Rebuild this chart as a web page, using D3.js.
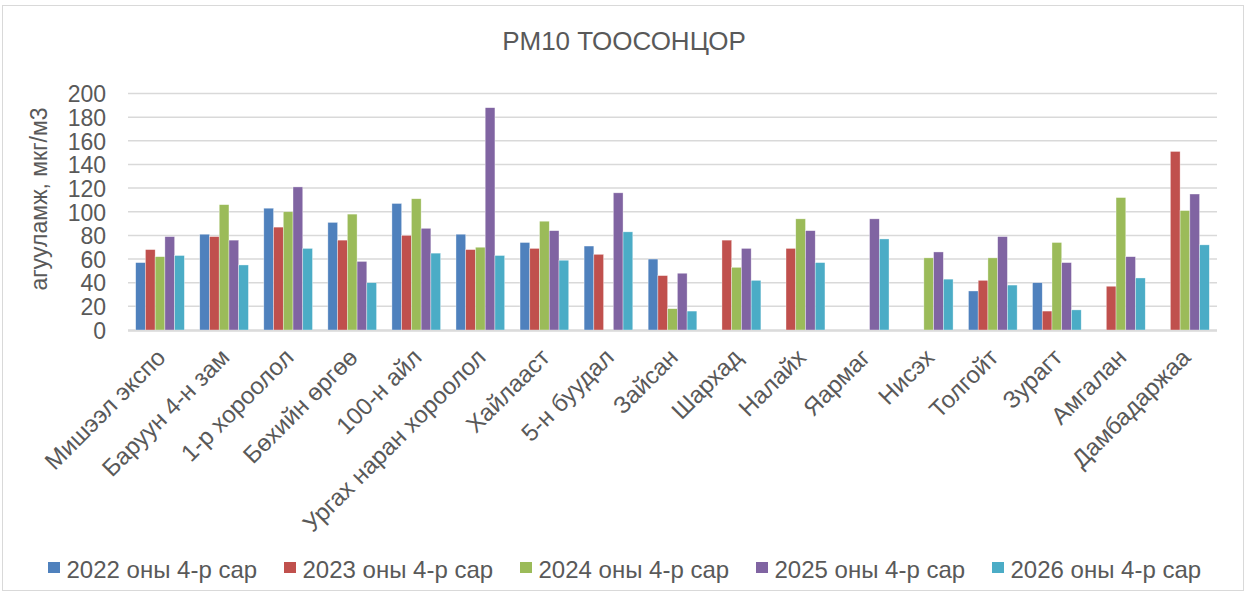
<html>
<head>
<meta charset="utf-8">
<title>PM10 ТООСОНЦОР</title>
<style>
  body { margin: 0; background: #fff; }
  text { font-family: "Liberation Sans", Arial, sans-serif; fill: #595959; }
</style>
</head>
<body>
<script src="https://cdn.jsdelivr.net/npm/d3@7/dist/d3.min.js"></script>
<script>

var width  = 1248;
var height = 595;

// station names
var categories = ["Мишээл экспо", "Баруун 4-н зам", "1-р хороолол", "Бөхийн өргөө", "100-н айл",
  "Ургах наран хороолол", "Хайлааст", "5-н буудал", "Зайсан", "Шархад", "Налайх", "Яармаг",
  "Нисэх", "Толгойт", "Зурагт", "Амгалан", "Дамбадаржаа"];

var seriesNames = ["2022 оны 4-р сар", "2023 оны 4-р сар", "2024 оны 4-р сар", "2025 оны 4-р сар", "2026 оны 4-р сар"];

// values per series (null = no measurement)
var y2022 = [57, 81, 103, 91, 107, 81, 74, 71, 60, null, null, null, null, 33, 40, null, null];
var y2023 = [68, 79, 87, 76, 80, 68, 69, 64, 46, 76, 69, null, null, 42, 16, 37, 151];
var y2024 = [62, 106, 100, 98, 111, 70, 92, null, 18, 53, 94, null, 61, 61, 74, 112, 101];
var y2025 = [79, 76, 121, 58, 86, 188, 84, 116, 48, 69, 84, 94, 66, 79, 57, 62, 115];
var y2026 = [63, 55, 69, 40, 65, 63, 59, 83, 16, 42, 57, 77, 43, 38, 17, 44, 72];

var yTicks = [0, 20, 40, 60, 80, 100, 120, 140, 160, 180, 200];
var colors = ["#4F81BD", "#C0504D", "#9BBB59", "#8064A2", "#4BACC6"];

var series = [y2022, y2023, y2024, y2025, y2026];

var svg = d3.select("body").append("svg")
  .attr("width", width)
  .attr("height", height);

// chart border
svg.append("rect")
  .attr("x", 2.5).attr("y", 5.5)
  .attr("width", 1241).attr("height", 585)
  .attr("fill", "#fff")
  .attr("stroke", "#d9d9d9");

var plotL = 128, plotR = 1217, plotT = 93.5, plotB = 330;

var x = d3.scaleBand()
  .domain(categories)
  .range([plotL, plotR])
  .paddingInner(0.24)
  .paddingOuter(0.12);

var xs = d3.scaleBand()
  .domain(d3.range(series.length))
  .range([0, x.bandwidth()]);

var y = d3.scaleLinear()
  .domain([0, 200])
  .range([plotB, plotT]);

// gridlines
svg.append("g").selectAll("line")
  .data(yTicks)
  .enter().append("line")
  .attr("x1", plotL).attr("x2", plotR)
  .attr("y1", function(d){ return y(d); })
  .attr("y2", function(d){ return y(d); })
  .attr("stroke", "#d9d9d9")
  .attr("stroke-width", 1.5);

// y axis labels
var yAxis = svg.append("g")
  .attr("transform", "translate(106,0)")
  .call(d3.axisLeft(y).tickValues(yTicks).tickSize(0).tickPadding(0));
yAxis.select(".domain").remove();
yAxis.selectAll("text")
  .style("font-size", "23px")
  .style("font-family", "'Liberation Sans', Arial, sans-serif")
  .attr("fill", "#595959")
  .attr("dy", "0.36em");

// bars
var groups = svg.append("g").selectAll("g")
  .data(series)
  .enter().append("g")
  .attr("fill", function(d,i){ return colors[i]; });

groups.each(function(vals, si){
  d3.select(this).selectAll("rect")
    .data(vals.map(function(v, ci){ return {v: v, c: categories[ci]}; })
               .filter(function(d){ return d.v !== null; }))
    .enter().append("rect")
    .attr("x", function(d){ return x(d.c) + xs(si); })
    .attr("width", xs.bandwidth())
    .attr("y", function(d){ return y(d.v); })
    .attr("height", function(d){ return y(0) - y(d.v); })
    .attr("stroke", "#fff")
    .attr("stroke-opacity", 0.6)
    .attr("stroke-width", 0.6);
});

// x axis line
svg.append("line")
  .attr("x1", plotL).attr("x2", plotR)
  .attr("y1", plotB + 1).attr("y2", plotB + 1)
  .attr("stroke", "#d9d9d9")
  .attr("stroke-width", 1.5);

// x labels, rotated
svg.append("g").selectAll("text")
  .data(categories)
  .enter().append("text")
  .attr("transform", function(d){
    return "translate(" + (x(d) + x.bandwidth() / 2 + 1) + "," + (plotB + 23) + ") rotate(-45)";
  })
  .attr("text-anchor", "end")
  .attr("dy", "0.35em")
  .style("font-size", "24px")
  .text(function(d){ return d; });

// y axis title
svg.append("text")
  .attr("transform", "translate(47,199) rotate(-90)")
  .attr("text-anchor", "middle")
  .style("font-size", "23px")
  .text("агууламж, мкг/м3");

// title
svg.append("text")
  .attr("x", 624).attr("y", 50)
  .attr("text-anchor", "middle")
  .style("font-size", "26px")
  .text("PM10 ТООСОНЦОР");

// legend
var legend = svg.append("g").selectAll("g")
  .data(seriesNames)
  .enter().append("g")
  .attr("transform", function(d,i){ return "translate(" + (48 + i * 236) + ",562)"; });

legend.append("rect")
  .attr("width", 12).attr("height", 11)
  .attr("fill", function(d,i){ return colors[i]; });

legend.append("text")
  .attr("x", 18.5).attr("y", 15.5)
  .style("font-size", "24px")
  .text(function(d){ return d; });

</script>
</body>
</html>
